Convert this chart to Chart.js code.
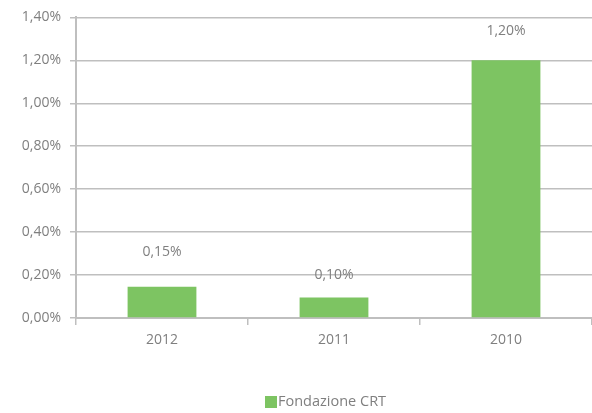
<!DOCTYPE html>
<html><head><meta charset="utf-8">
<script src="https://cdn.jsdelivr.net/npm/chart.js@4"></script>
<style>html,body{margin:0;padding:0;background:#fff}#w{width:592px;height:413px}</style>
</head><body><div id="w"><canvas id="c" width="592" height="413"></canvas></div>
<script>
const categories = ["2012", "2011", "2010"];
const seriesName = "Fondazione CRT";
const values = [0.145, 0.095, 1.2];
const valueLabels = ["0,15%", "0,10%", "1,20%"];
const yTicks = [0, 0.2, 0.4, 0.6, 0.8, 1.0, 1.2, 1.4];

const grey = '#7f7f7f';
const gridGrey = '#bfbfbf';
const green = '#7dc462';
const FONT = "'Open Sans', 'DejaVu Sans', sans-serif";

const labelPlugin = {
  id: 'vlabels',
  afterDatasetsDraw(chart) {
    const ctx = chart.ctx;
    const meta = chart.getDatasetMeta(0);
    const offs = [35, 23, 29];
    ctx.save();
    ctx.fillStyle = grey;
    ctx.font = "14px " + FONT;
    ctx.textAlign = 'center';
    ctx.textBaseline = 'middle';
    meta.data.forEach((bar, i) => {
      ctx.fillText(valueLabels[i], bar.x, bar.y - offs[i]);
    });
    // legend
    const ly = 402;
    ctx.fillStyle = green;
    ctx.fillRect(265, ly - 6, 12, 12);
    ctx.fillStyle = grey;
    ctx.textAlign = 'left';
    ctx.font = "14.5px " + FONT;
    ctx.fillText(chart.data.datasets[0].label, 278, ly);
    ctx.restore();
  }
};

new Chart(document.getElementById('c'), {
  type: 'bar',
  data: {
    labels: categories,
    datasets: [{
      label: seriesName,
      data: values,
      backgroundColor: green,
      borderWidth: 0,
      categoryPercentage: 0.4,
      barPercentage: 1.0
    }]
  },
  options: {
    responsive: false,
    animation: false,
    devicePixelRatio: 1,
    layout: { padding: { top: 10, right: 0, left: 0, bottom: 33 } },
    plugins: {
      legend: { display: false },
      tooltip: { enabled: false }
    },
    scales: {
      y: {
        min: 0, max: 1.4,
        afterBuildTicks(axis) { axis.ticks = yTicks.map(v => ({ value: v })); },
        afterFit(axis) { axis.width = 76; },
        ticks: {
          color: grey,
          font: { family: FONT, size: 14 },
          padding: 9,
          callback: v => v.toFixed(2).replace('.', ',') + '%'
        },
        grid: { color: gridGrey, lineWidth: 1.5, tickLength: 6, tickColor: gridGrey },
        border: { color: gridGrey, width: 2 }
      },
      x: {
        afterFit(axis) { axis.height = 62; },
        ticks: { color: grey, font: { family: FONT, size: 14 }, padding: 7 },
        grid: { offset: true, drawOnChartArea: false, color: gridGrey, tickLength: 7, lineWidth: 1.5 },
        border: { color: gridGrey, width: 2 }
      }
    }
  },
  plugins: [labelPlugin]
});
</script></body></html>
